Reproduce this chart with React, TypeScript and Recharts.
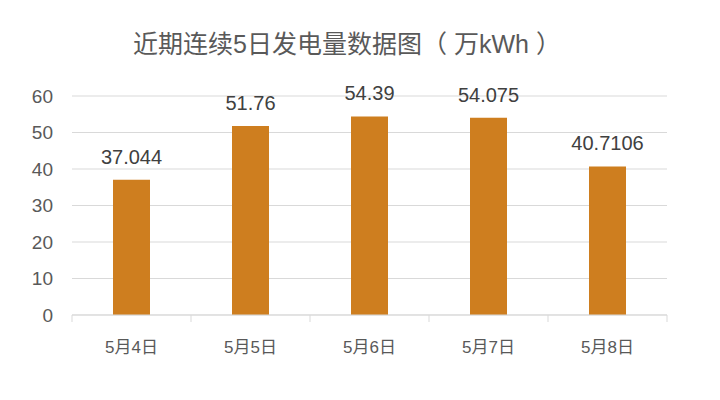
import React from "react";
import { BarChart, Bar, XAxis, YAxis, CartesianGrid, LabelList } from "recharts";

const categories = ["5月4日", "5月5日", "5月6日", "5月7日", "5月8日"];
const generation = [37.044, 51.76, 54.39, 54.075, 40.7106];
const yTicks = [0, 10, 20, 30, 40, 50, 60];
const title = "近期连续5日发电量数据图（ 万kWh ）";

const data = categories.map((c, i) => ({ name: c, value: generation[i] }));

const FONT = "'Liberation Sans', Arial, 'Noto Sans CJK SC', sans-serif";
const TICK_MARGIN = 26;
const TICK_LEN = 7;

const CatTick = (props: any) => {
  const { x, y, payload, index, visibleTicksCount } = props;
  const half = payload && payload.offset ? payload.offset : 0;
  const axisY = y - TICK_MARGIN;
  const isLast = index === visibleTicksCount - 1;
  return (
    <g>
      <line x1={x - half} x2={x - half} y1={axisY} y2={axisY + TICK_LEN} stroke="#d9d9d9" strokeWidth={1} />
      {isLast && <line x1={x + half} x2={x + half} y1={axisY} y2={axisY + TICK_LEN} stroke="#d9d9d9" strokeWidth={1} />}
      <text x={x} y={y} dy="0.71em" textAnchor="middle" fontSize={17} fill="#595959" fontFamily={FONT}>
        {payload.value}
      </text>
    </g>
  );
};

export default function App() {
  return (
    <div style={{ position: "absolute", left: 0, top: 0, width: 720, height: 400, background: "#fff", fontFamily: FONT }}>
      <div
        style={{
          position: "absolute",
          left: 0,
          top: 27,
          width: 694,
          textAlign: "center",
          fontSize: 25,
          color: "#595959",
          fontFamily: FONT,
          lineHeight: "34px",
          whiteSpace: "pre",
        }}
      >
        {title}
      </div>
      <BarChart
        width={720}
        height={400}
        data={data}
        margin={{ top: 96, right: 53, left: 0, bottom: 0 }}
        style={{ position: "absolute", left: 0, top: 0 }}
      >
        <CartesianGrid vertical={false} stroke="#d9d9d9" strokeWidth={1} />
        <XAxis
          dataKey="name"
          height={85}
          interval={0}
          axisLine={{ stroke: "#d9d9d9" }}
          tickLine={false}
          tickSize={0}
          tickMargin={TICK_MARGIN}
          tick={CatTick}
        />
        <YAxis
          width={72}
          domain={[0, 60]}
          ticks={yTicks}
          interval={0}
          axisLine={false}
          tickLine={false}
          tickSize={0}
          tickMargin={19}
          tick={{ fontSize: 19, fill: "#595959", fontFamily: FONT }}
        />
        <Bar dataKey="value" fill="#CE7E1F" barSize={37} isAnimationActive={false}>
          <LabelList dataKey="value" position="top" offset={16} style={{ fontSize: 20, fill: "#404040", fontFamily: FONT }} />
        </Bar>
      </BarChart>
    </div>
  );
}
